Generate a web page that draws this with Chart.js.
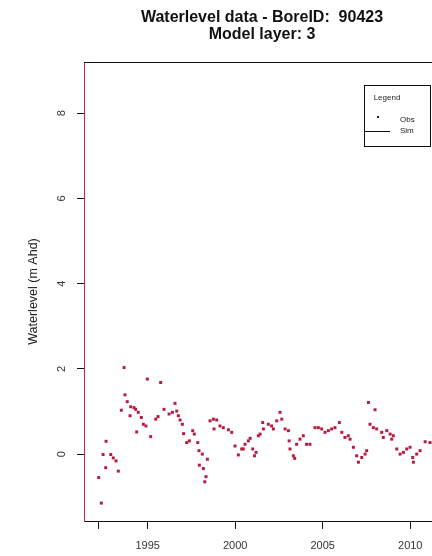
<!DOCTYPE html>
<html>
<head>
<meta charset="utf-8">
<script src="https://cdn.jsdelivr.net/npm/chart.js@4/dist/chart.umd.min.js"></script>
<style>
  html, body { margin: 0; padding: 0; background: #fff; overflow: hidden; }
  #wrap { width: 460px; height: 556px; }
</style>
</head>
<body>
<div id="wrap"><canvas id="chart"></canvas></div>
<script>
// Observed water levels (decimal year, m AHD)
const obsYears = [
  1992.20, 1992.35, 1992.45, 1992.60, 1992.62, 1992.89, 1993.03, 1993.19, 1993.32, 1993.49,
  1993.65, 1993.70, 1993.83, 1993.99, 1994.03, 1994.22, 1994.31, 1994.37, 1994.46, 1994.64,
  1994.75, 1994.90, 1994.98, 1995.17, 1995.46, 1995.59, 1995.74, 1995.93, 1996.22, 1996.41,
  1996.56, 1996.66, 1996.75, 1996.85, 1996.98, 1997.05, 1997.23, 1997.38, 1997.57, 1997.66,
  1997.86, 1997.93, 1997.95, 1998.12, 1998.18, 1998.26, 1998.33, 1998.41, 1998.56, 1998.75,
  1998.79, 1998.94, 1999.13, 1999.32, 1999.61, 1999.80, 1999.99, 2000.18, 2000.37, 2000.46,
  2000.56, 2000.75, 2000.85, 2001.00, 2001.10, 2001.19, 2001.32, 2001.42, 2001.57, 2001.61,
  2001.89, 2002.08, 2002.18, 2002.37, 2002.56, 2002.66, 2002.85, 2003.04, 2003.08, 2003.13,
  2003.32, 2003.40, 2003.51, 2003.70, 2003.89, 2004.08, 2004.27, 2004.56, 2004.75, 2004.94,
  2005.13, 2005.32, 2005.51, 2005.70, 2005.95, 2006.09, 2006.27, 2006.46, 2006.56, 2006.75,
  2006.94, 2007.04, 2007.23, 2007.42, 2007.51, 2007.61, 2007.70, 2007.89, 2007.99, 2008.08,
  2008.37, 2008.46, 2008.66, 2008.85, 2008.94, 2009.03, 2009.23, 2009.42, 2009.61, 2009.80,
  2009.99, 2010.14, 2010.18, 2010.37, 2010.56, 2010.85, 2011.13
];
const obsLevels = [
  -0.55, -1.15, -0.01, -0.32, 0.30, -0.01, -0.09, -0.16, -0.40, 1.03,
  2.03, 1.39, 1.23, 0.90, 1.11, 1.09, 1.05, 0.52, 0.98, 0.86,
  0.70, 0.66, 1.76, 0.41, 0.82, 0.88, 1.68, 1.05, 0.94, 0.98,
  1.19, 1.01, 0.90, 0.80, 0.70, 0.48, 0.27, 0.31, 0.55, 0.47,
  0.27, 0.08, -0.26, 0.00, -0.34, -0.65, -0.53, -0.12, 0.78, 0.82,
  0.59, 0.80, 0.66, 0.62, 0.57, 0.51, 0.19, -0.02, 0.12, 0.12,
  0.23, 0.31, 0.37, 0.12, -0.04, 0.04, 0.43, 0.47, 0.74, 0.59,
  0.70, 0.66, 0.59, 0.78, 0.98, 0.82, 0.59, 0.55, 0.31, 0.12,
  -0.04, -0.10, 0.23, 0.35, 0.43, 0.23, 0.23, 0.62, 0.62, 0.59,
  0.51, 0.55, 0.59, 0.62, 0.74, 0.51, 0.39, 0.43, 0.35, 0.16,
  -0.04, -0.19, -0.08, 0.00, 0.08, 1.21, 0.70, 0.62, 1.04, 0.59,
  0.51, 0.39, 0.55, 0.47, 0.35, 0.43, 0.12, 0.00, 0.04, 0.12,
  0.16, -0.08, -0.19, 0.00, 0.08, 0.29, 0.27
];
// Simulated series: nothing of it is visible in the reference
const simYears = [];
const simLevels = [];

const xTickValues = [1992.2, 1995, 2000, 2005, 2010];
const xTickLabels = ['', '1995', '2000', '2005', '2010'];
const yTickValues = [0, 2, 4, 6, 8];
const yTickLabels = ['0', '2', '4', '6', '8'];

const FONT = '"Liberation Sans", Arial, Helvetica, sans-serif';
const OBS_COLOR = '#b81a3e';

// Title, top frame line and the boxed legend (R style)
const extrasPlugin = {
  id: 'extras',
  afterDraw(chart) {
    const ctx = chart.ctx;
    const area = chart.chartArea;
    ctx.save();
    // top / right frame lines
    ctx.strokeStyle = '#111';
    ctx.lineWidth = 1;
    ctx.beginPath();
    ctx.moveTo(area.left, area.top + 0.5);
    ctx.lineTo(area.right, area.top + 0.5);
    ctx.moveTo(area.right - 0.5, area.top);
    ctx.lineTo(area.right - 0.5, area.bottom);
    ctx.stroke();

    // title
    const cx = (area.left + area.right) / 2;
    ctx.fillStyle = '#111';
    ctx.font = 'bold 16px ' + FONT;
    ctx.textAlign = 'center';
    ctx.textBaseline = 'middle';
    ctx.fillText('Waterlevel data - BoreID:  90423', cx, 18);
    ctx.fillText('Model layer: 3', cx, 35);

    // legend box
    const bx = area.right - 76, by = area.top + 23, bw = 66, bh = 61;
    ctx.fillStyle = '#fff';
    ctx.fillRect(bx, by, bw, bh);
    ctx.strokeStyle = '#111';
    ctx.strokeRect(bx + 0.5, by + 0.5, bw, bh);
    ctx.fillStyle = '#222';
    ctx.font = '8px ' + FONT;
    ctx.textAlign = 'center';
    ctx.fillText('Legend', bx + 23, by + 13);
    ctx.textAlign = 'left';
    ctx.fillText('Obs', bx + 36, by + 35);
    ctx.fillText('Sim', bx + 36, by + 46);
    ctx.fillRect(bx + 13, by + 31, 2, 2);
    ctx.strokeStyle = '#111';
    ctx.beginPath();
    ctx.moveTo(bx + 1, by + 46.5);
    ctx.lineTo(bx + 26, by + 46.5);
    ctx.stroke();
    ctx.restore();
  }
};

new Chart(document.getElementById('chart'), {
  type: 'scatter',
  data: {
    datasets: [{
      label: 'Obs',
      data: obsYears.map((y, i) => ({ x: y, y: obsLevels[i] })),
      pointStyle: 'rect',
      pointRadius: 2.1,
      pointBorderWidth: 0,
      pointBackgroundColor: OBS_COLOR,
      backgroundColor: OBS_COLOR
    }, {
      label: 'Sim',
      type: 'line',
      data: simYears.map((y, i) => ({ x: y, y: simLevels[i] })),
      borderColor: '#111',
      borderWidth: 1,
      pointRadius: 0
    }]
  },
  options: {
    responsive: true,
    maintainAspectRatio: false,
    animation: false,
    layout: { padding: { top: 62, right: 20, left: 0, bottom: 0 } },
    plugins: {
      legend: { display: false },
      tooltip: { enabled: false },
      title: { display: false }
    },
    scales: {
      x: {
        type: 'linear',
        min: 1991.36,
        max: 2011.7,
        afterBuildTicks: function(scale) {
          scale.ticks = xTickValues.map(v => ({ value: v }));
        },
        afterFit: function(scale) {
          scale.height = 35;
        },
        grid: {
          drawOnChartArea: false,
          drawTicks: true,
          tickLength: 8,
          tickColor: '#111'
        },
        border: { display: true, color: '#111', width: 1 },
        ticks: {
          autoSkip: false,
          maxRotation: 0,
          padding: 10,
          color: '#333',
          font: { family: FONT, size: 11 },
          callback: function(value, index) {
            return xTickLabels[index];
          }
        }
      },
      y: {
        min: -1.57,
        max: 9.2,
        afterBuildTicks: function(scale) {
          scale.ticks = yTickValues.map(v => ({ value: v }));
        },
        afterFit: function(scale) {
          scale.width = 84;
        },
        grid: {
          drawOnChartArea: false,
          drawTicks: true,
          tickLength: 7,
          tickColor: '#111'
        },
        border: { display: true, color: '#c0284c', width: 1 },
        title: {
          display: true,
          text: 'Waterlevel (m Ahd)',
          color: '#222',
          font: { family: FONT, size: 12.5 },
          padding: { top: 26, bottom: 0 }
        },
        ticks: {
          autoSkip: false,
          minRotation: 90,
          maxRotation: 90,
          crossAlign: 'center',
          padding: 12,
          color: '#333',
          font: { family: FONT, size: 11 },
          callback: function(value, index) {
            return yTickLabels[index];
          }
        }
      }
    }
  },
  plugins: [extrasPlugin]
});
</script>
</body>
</html>
